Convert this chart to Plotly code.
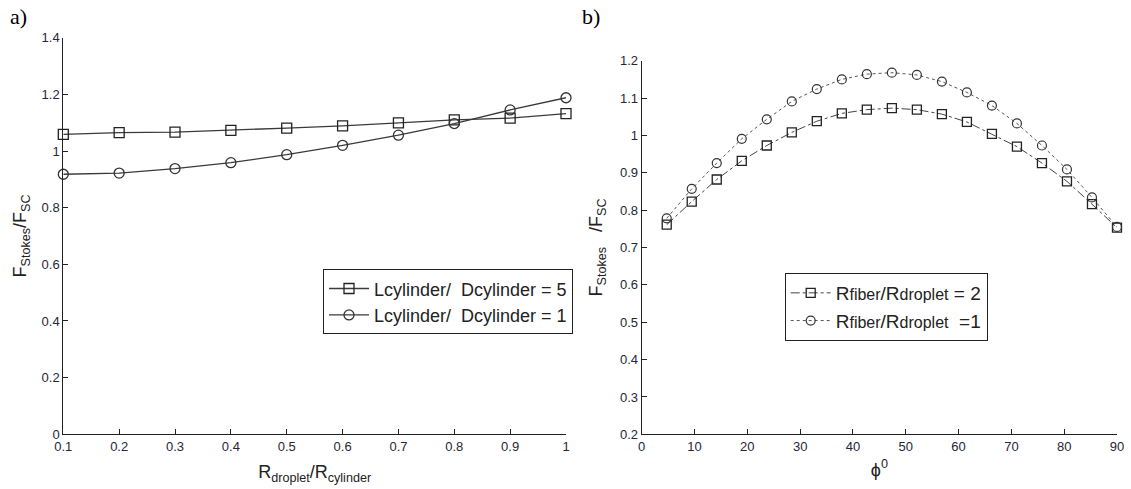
import plotly.graph_objects as go

# Panel a data
ratio_a = [0.1, 0.2, 0.3, 0.4, 0.5, 0.6, 0.7, 0.8, 0.9, 1.0]
a_L5 = [1.059, 1.065, 1.067, 1.073, 1.081, 1.089, 1.099, 1.110, 1.116, 1.132]
a_L1 = [0.918, 0.922, 0.938, 0.959, 0.987, 1.020, 1.056, 1.097, 1.145, 1.188]

# Panel b data
phi_b = [90 * k / 19 for k in range(1, 20)]
b_R2 = [0.761, 0.823, 0.882, 0.932, 0.973, 1.008, 1.038, 1.059, 1.069, 1.073,
        1.069, 1.057, 1.036, 1.004, 0.970, 0.926, 0.877, 0.816, 0.753]
b_R1 = [0.778, 0.857, 0.926, 0.991, 1.043, 1.091, 1.124, 1.150, 1.164, 1.168,
        1.162, 1.144, 1.115, 1.080, 1.032, 0.973, 0.909, 0.834, 0.755]

W, H = 1131, 489
def px(x): return x / W
def py(y): return 1 - y / H

fig = go.Figure()
lc = "#3a3a3a"
fig.add_trace(go.Scatter(x=ratio_a, y=a_L5, mode="lines+markers",
    name="Lcylinder/  Dcylinder = 5", line=dict(color=lc, width=1.3),
    marker=dict(symbol="square-open", size=10, color="#222", line=dict(width=1.3)),
    xaxis="x", yaxis="y", legend="legend", cliponaxis=False))
fig.add_trace(go.Scatter(x=ratio_a, y=a_L1, mode="lines+markers",
    name="Lcylinder/  Dcylinder = 1", line=dict(color=lc, width=1.3),
    marker=dict(symbol="circle-open", size=10, color="#333", line=dict(width=1.3)),
    xaxis="x", yaxis="y", legend="legend", cliponaxis=False))
sub = "<span style='font-size:16px'>"
fig.add_trace(go.Scatter(x=phi_b, y=b_R2, mode="lines+markers",
    name="R" + sub + "fiber</span>/R" + sub + "droplet</span> = 2",
    line=dict(color="#444", width=1, dash="dashdot"),
    marker=dict(symbol="square-open", size=9, color="#222", line=dict(width=1.3)),
    xaxis="x2", yaxis="y2", legend="legend2", cliponaxis=False))
fig.add_trace(go.Scatter(x=phi_b, y=b_R1, mode="lines+markers",
    name="R" + sub + "fiber</span>/R" + sub + "droplet</span>  =1",
    line=dict(color="#555", width=1, dash="dot"),
    marker=dict(symbol="circle-open", size=9, color="#333", line=dict(width=1.2)),
    xaxis="x2", yaxis="y2", legend="legend2", cliponaxis=False))

tickfont = dict(family="Liberation Sans, Arial", size=13, color="#262636")
axcommon = dict(showgrid=False, zeroline=False, showline=True, linecolor="#222",
                linewidth=1, ticks="inside", ticklen=5, tickcolor="#222",
                tickfont=tickfont, mirror=False, automargin=False)
titlefont = dict(family="Liberation Sans, Arial", size=18, color="#222")

fig.update_layout(
    width=W, height=H, margin=dict(l=0, r=0, t=0, b=0),
    paper_bgcolor="white", plot_bgcolor="white",
    xaxis=dict(domain=[px(63.3), px(566)], range=[0.1, 1.0],
               tickvals=[0.1, 0.2, 0.3, 0.4, 0.5, 0.6, 0.7, 0.8, 0.9, 1.0],
               ticktext=["0.1", "0.2", "0.3", "0.4", "0.5", "0.6", "0.7", "0.8", "0.9", "1"],
               anchor="y",
               title=dict(text="R<sub>droplet</sub>/R<sub>cylinder</sub>", font=titlefont, standoff=12),
               **axcommon),
    yaxis=dict(domain=[py(434.3), py(37.7)], range=[0, 1.4],
               tickvals=[0, 0.2, 0.4, 0.6, 0.8, 1.0, 1.2, 1.4],
               ticktext=["0", "0.2", "0.4", "0.6", "0.8", "1", "1.2", "1.4"],
               anchor="x",
               title=dict(text="F<sub>Stokes</sub>/F<sub>SC</sub>", font=titlefont, standoff=10),
               **axcommon),
    xaxis2=dict(domain=[px(641.7), px(1117)], range=[0, 90],
                tickvals=list(range(0, 91, 10)), anchor="y2",
                title=dict(text="ϕ<sup>0</sup>", font=titlefont, standoff=10),
                **axcommon),
    yaxis2=dict(domain=[py(434.3), py(60.7)], range=[0.2, 1.2],
                tickvals=[0.2, 0.3, 0.4, 0.5, 0.6, 0.7, 0.8, 0.9, 1.0, 1.1, 1.2],
                ticktext=["0.2", "0.3", "0.4", "0.5", "0.6", "0.7", "0.8", "0.9", "1", "1.1", "1.2"],
                anchor="x2",
                title=dict(text="F<sub>Stokes</sub>   /F<sub>SC</sub>", font=titlefont, standoff=12),
                **axcommon),
    legend=dict(x=px(323), y=py(269.3), xanchor="left", yanchor="top",
                bordercolor="#222", borderwidth=1, bgcolor="white",
                font=dict(family="Liberation Sans, Arial", size=18, color="#222"),
                tracegroupgap=0, itemwidth=40),
    legend2=dict(x=px(784.7), y=py(273), xanchor="left", yanchor="top",
                 bordercolor="#222", borderwidth=1, bgcolor="white",
                 font=dict(family="Liberation Sans, Arial", size=19, color="#222"),
                 tracegroupgap=0, itemwidth=40),
    showlegend=True,
    annotations=[
        dict(text="a)", x=px(8), y=py(2), xref="paper", yref="paper",
             xanchor="left", yanchor="top", showarrow=False,
             font=dict(family="Liberation Serif, Times New Roman", size=22, color="black")),
        dict(text="b)", x=px(580), y=py(2), xref="paper", yref="paper",
             xanchor="left", yanchor="top", showarrow=False,
             font=dict(family="Liberation Serif, Times New Roman", size=22, color="black")),
    ],
)

fig.write_html("out.html")
